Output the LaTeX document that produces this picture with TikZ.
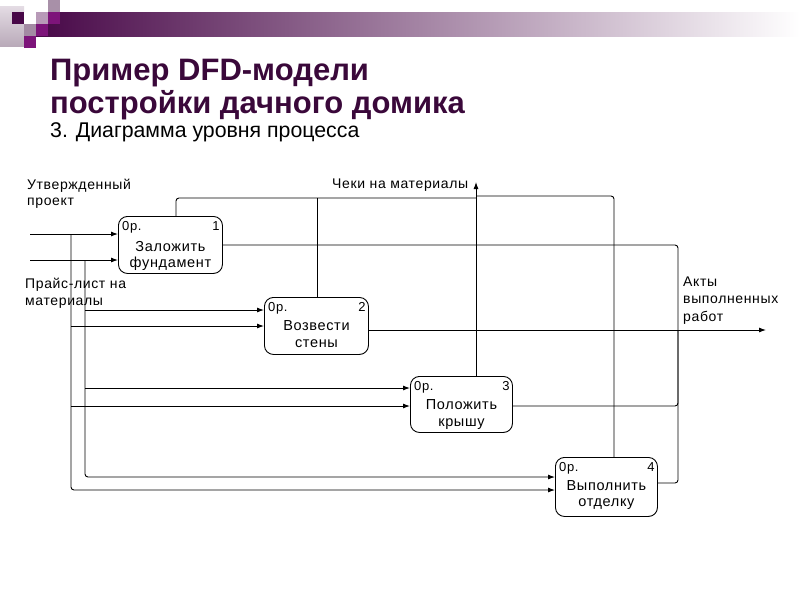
\documentclass[tikz,border=0pt]{standalone}
\usepackage{fontspec}
\setmainfont{Liberation Sans}
\newfontfamily\spaced[LetterSpace=4.5]{Liberation Sans}
\usetikzlibrary{arrows.meta}
\definecolor{ttl}{RGB}{58,8,58}
\definecolor{dpur}{RGB}{72,8,72}
\definecolor{mpur}{RGB}{125,20,122}
\definecolor{mauveA}{RGB}{184,154,184}
\definecolor{mauveB}{RGB}{163,138,163}
\definecolor{mauveC}{RGB}{168,144,168}
\begin{document}
\begin{tikzpicture}[x=1pt,y=-1pt,
  proc/.style={draw, line width=0.9pt, rounded corners=9pt, minimum width=104pt, minimum height=57pt, anchor=north west, inner sep=0},
  flow/.style={line width=0.9pt, rounded corners=3pt},
  arr/.style={flow, -{Latex[length=7pt,width=5pt]}},
  lbl/.style={font=\spaced\fontsize{14}{16}\selectfont, anchor=base west, inner sep=0},
  tag/.style={font=\spaced\fontsize{13}{14}\selectfont, inner sep=0},
  ptxt/.style={font=\spaced\fontsize{14.5}{16.5}\selectfont, align=center, inner sep=0}
]
\useasboundingbox (0,0) rectangle (800,600);
% header decoration
\shade[left color=dpur, right color=white] (36,12) rectangle (800,36);
\shade[top color={rgb,255:red,228;green,220;blue,228}, bottom color={rgb,255:red,185;green,170;blue,185}] (0,6) rectangle (24,46);
\fill[dpur] (12,12) rectangle (24,24);
\fill[white] (24,12) rectangle (36,24);
\fill[mauveA] (36,12) rectangle (48,24);
\fill[mpur] (48,12) rectangle (60,24);
\fill[mauveB] (24,24) rectangle (36,36);
\fill[mpur] (36,24) rectangle (48,36);
\fill[mpur] (24,36) rectangle (36,48);
\fill[mauveC] (48,0) rectangle (60,12);
% titles
\node[anchor=base west, inner sep=0, font=\bfseries\fontsize{31}{31}\selectfont, text=ttl] (t1) at (50,80) {Пример DFD-модели};
\node[anchor=base west, inner sep=0, font=\bfseries\fontsize{31}{31}\selectfont, text=ttl] (t2) at (50,113) {постройки дачного домика};
\node[anchor=base west, inner sep=0, font=\fontsize{21.3}{21}\selectfont] (t3) at (50,137) {3. Диаграмма уровня процесса};
% process boxes
\node[proc] (p1) at (118,216) {};
\node[proc] (p2) at (264,297) {};
\node[proc, minimum height=56pt, minimum width=102pt] (p3) at (410,376) {};
\node[proc, minimum height=59pt, minimum width=102pt] (p4) at (555,457) {};
\foreach \p/\n in {p1/1,p2/2,p3/3,p4/4}{
  \node[tag, anchor=base west] (\p a) at ([xshift=4pt,yshift=-14pt]\p.north west) {0р.};
  \node[tag, anchor=base east] (\p b) at ([xshift=-3pt,yshift=-14pt]\p.north east) {\n};
}
\node[ptxt] (p1t) at ([yshift=-11pt]p1.center) {Заложить\\фундамент};
\node[ptxt] (p2t) at ([yshift=-8pt]p2.center) {Возвести\\стены};
\node[ptxt] (p3t) at ([yshift=-10pt]p3.center) {Положить\\крышу};
\node[ptxt] (p4t) at ([yshift=-8pt]p4.center) {Выполнить\\отделку};
% inputs
\coordinate (in1) at (30,234);
\coordinate (in2) at (30,260);
\draw[arr] (in1) -- (p1.west |- in1);
\draw[arr] (in2) -- (p1.west |- in2);
\draw[arr] (71,234) |- (p4.west |- 0,490);
\draw[arr] (71,326) -- (p2.west |- 0,326);
\draw[arr] (71,406) -- (p3.west |- 0,406);
\draw[arr] (85,260) |- (p4.west |- 0,477);
\draw[arr] (85,310) -- (p2.west |- 0,310);
\draw[arr] (85,388) -- (p3.west |- 0,388);
% outputs
\coordinate (ox) at (678,330);
\coordinate (aout) at (766,330);
\draw[flow] (p1.east |- 0,245) -| (ox);
\draw[arr] (p2.east |- aout) -- (aout);
\draw[flow] (p3.east |- 0,406) -| (ox);
\draw[flow] (p4.east |- 0,483) -| (ox);
% controls (upward)
\coordinate (cup) at (476,182);
\draw[arr] (p3.north -| cup) -- (cup);
\draw[flow] (p1.north -| 176,0) |- (476,198);
\draw[flow] (p2.north -| 317,0) -- (317,198);
\draw[flow] (p4.north -| 614,0) |- (476,196);
% labels
\node[lbl] (l1) at (27,189) {Утвержденный};
\node[lbl] (l2) at (27,205) {проект};
\node[lbl] (l3) at (25,288) {Прайс-лист на};
\node[lbl] (l4) at (25,305) {материалы};
\node[lbl] (l5) at (683,286) {Акты};
\node[lbl] (l6) at (683,303) {выполненных};
\node[lbl] (l7) at (683,321) {работ};
\node[lbl] (l8) at (332,188) {Чеки на материалы};
\end{tikzpicture}
\end{document}
